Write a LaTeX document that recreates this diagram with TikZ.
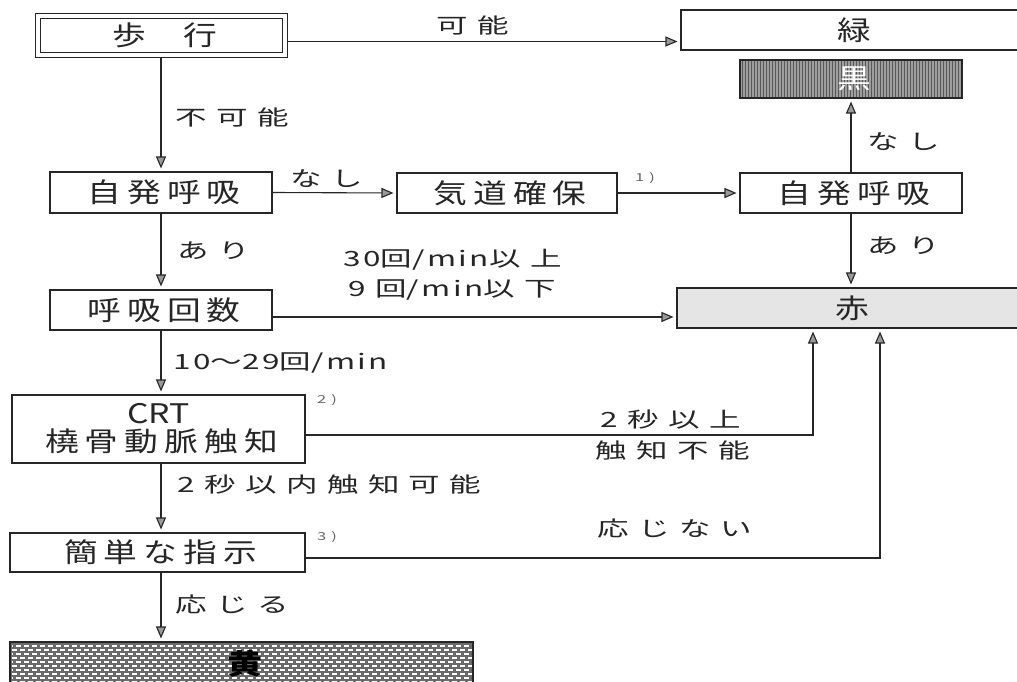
\documentclass[tikz,border=0pt]{standalone}
\usepackage{fontspec}
\usepackage{graphicx}
\usetikzlibrary{arrows.meta,calc,backgrounds}
\newfontfamily\bxf[LetterSpace=18]{Noto Sans CJK JP}
\newfontfamily\plf{Noto Sans CJK JP}
\newfontfamily\lbf[LetterSpace=30]{Noto Sans CJK JP}
\newfontfamily\ltf[LetterSpace=8]{Noto Sans CJK JP}
\newcommand\wb[1]{\scalebox{1.25}[1]{#1\hspace{-0.18em}}}
\newcommand\wl[1]{\scalebox{1.5}[1]{#1}}
\begin{document}
\begin{tikzpicture}[x=1pt,y=-1pt,
  box/.style={draw=black!85, line width=1.1pt, inner sep=0pt, text=black!85,
    font=\bxf\fontsize{27}{31}\selectfont},
  lab/.style={inner sep=0pt, anchor=west, text=black!85, font=\lbf\fontsize{21}{24}\selectfont},
  fn/.style={inner sep=0pt, anchor=west, text=black!60, font=\lbf\fontsize{11}{13}\selectfont},
  arr/.style={draw=black!85, line width=1.1pt, shorten >=3pt,
    -{Triangle[length=12pt,width=10pt,fill=black!40]}}
]
\clip (0,0) rectangle (1017,682);

% boxes
\node[box, minimum width=247pt, minimum height=39pt, double, double distance=3.5pt] (walk) at (161.5,35.5) {\wb{歩\hspace{1.1em}行}};
\node[box, minimum width=340pt, minimum height=40pt] (green) at (851,30) {\wb{緑}};
\node[box, minimum width=222pt, minimum height=38pt, text=white!80] (black) at (851,79) {\wb{黒}};
\node[box, minimum width=222pt, minimum height=41pt] (sb1) at (161,192.5) {\wb{自発呼吸}};
\node[box, minimum width=220pt, minimum height=40pt] (air) at (507,193) {\wb{気道確保}};
\node[box, minimum width=222pt, minimum height=40pt] (sb2) at (851,193) {\wb{自発呼吸}};
\node[box, minimum width=344pt, minimum height=40pt] (red) at (849,308) {\wb{赤}};
\node[box, minimum width=222pt, minimum height=40pt] (rr) at (161,310) {\wb{呼吸回数}};
\node[box, minimum width=293pt, minimum height=68pt, align=center] (crt) at (158.5,429)
  {\scalebox{1.25}[1]{\plf CRT}\\[-3pt]\wb{橈骨動脈触知}};
\node[box, minimum width=295pt, minimum height=39pt] (cmd) at (157.5,552.5) {\wb{簡単な指示}};
\node[box, minimum width=463pt, minimum height=44pt, text=black,
  font=\bxf\bfseries\fontsize{28}{32}\selectfont] (yel) at (241.5,664) {\wb{黄}};

% box backgrounds
\begin{scope}[on background layer]
  \fill[white] (0,0) rectangle (1017,682);
  \fill[black!10] (red.north west) rectangle (red.south east);
  \fill[black!38] (black.north west) rectangle (black.south east);
  \foreach \x [count=\i] in {742,745,...,960}
    \draw[black!65, line width=0.7pt] (\x,61) -- (\x,97);
  \fill[black!58] (yel.north west) rectangle (yel.south east);
  \foreach \y [count=\i] in {646,650,...,686}
    \draw[white!90, line width=1.3pt, dash pattern=on 5pt off 3pt, dash phase=\i*4] (12,\y) -- (472,\y);
\end{scope}

% connectors
\coordinate (a1) at ($(walk.east)+(2.8,6)$);
\draw[arr] (a1) -- (a1 -| green.west);
\coordinate (a2) at ($(walk.south -| sb1.north)+(0,2.8)$);
\draw[arr] (a2) -- (sb1.north);
\draw[arr] (sb1.east) -- (air.west);
\draw[arr] (air.east) -- (sb2.west);
\draw[arr] (sb2.north) -- (black.south);
\draw[arr] (sb2.south) -- (sb2.south |- red.north);
\draw[arr] (sb1.south) -- (rr.north);
\coordinate (a3) at ($(rr.east)+(0,7)$);
\draw[arr] (a3) -- (a3 -| red.west);
\draw[arr] (rr.south) -- (rr.south |- crt.north);
\coordinate (a4) at ($(crt.east)+(0,6)$);
\coordinate (r1) at ($(red.south)+(-36,0)$);
\draw[arr] (a4) -| (r1);
\draw[arr] (crt.south -| rr.south) -- (rr.south |- cmd.north);
\coordinate (a5) at ($(cmd.east)+(0,5.5)$);
\coordinate (r2) at ($(red.south)+(31,0)$);
\draw[arr] (a5) -| (r2);
\draw[arr] (cmd.south -| rr.south) -- (rr.south |- yel.north);

% labels
\node[lab] (l1) at (436,26) {\wl{可能}};
\node[lab] (l2) at (175,117) {\wl{不可能}};
\node[lab] (l3) at (290,179) {\wl{なし}};
\node[fn] (f1) at (635,178) {\wl{1)}};
\node[lab] (l4) at (867,142) {\wl{なし}};
\node[lab] (l5) at (867,246) {\wl{あり}};
\node[lab] (l6) at (177,251) {\wl{あり}};
\node[lab] (l7) at (343,260) {\wl{{\ltf 30}回{\ltf /min}以上}};
\node[lab] (l8) at (348,290) {\wl{{\ltf 9 }回{\ltf /min}以下}};
\node[lab] (l9) at (173,362.5) {\wl{{\ltf 10}〜{\ltf 29}回{\ltf /min}}};
\node[fn] (f2) at (317,400) {\wl{2)}};
\node[lab] (l10) at (600,419.5) {\wl{{\ltf 2 }秒以上}};
\node[lab] (l11) at (595,451) {\wl{触知不能}};
\node[lab] (l12) at (177,485) {\wl{{\ltf 2 }秒以内触知可能}};
\node[fn] (f3) at (317,537) {\wl{3)}};
\node[lab] (l13) at (597,529) {\wl{応じない}};
\node[lab] (l14) at (175,605) {\wl{応じる}};
\end{tikzpicture}
\end{document}
